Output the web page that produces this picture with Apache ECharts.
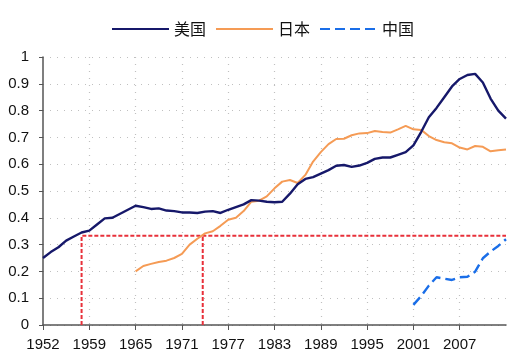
<!DOCTYPE html>
<html>
<head>
<meta charset="utf-8">
<script src="https://cdn.jsdelivr.net/npm/echarts@6/dist/echarts.min.js"></script>
<style>html,body{margin:0;padding:0;background:#fff;}#c{width:525px;height:360px;}</style>
</head>
<body>
<div id="c"></div>
<script>
// Categories: first label 1952, then 1954..2013 (61 points)
var years = ['1952'];
for (var y = 1954; y <= 2013; y++) years.push(String(y));

var usa = [0.25,0.272,0.29,0.315,0.33,0.345,0.352,0.375,0.398,0.40,
           0.415,0.43,0.445,0.44,0.433,0.435,0.427,0.425,0.42,0.42,
           0.418,0.423,0.425,0.418,0.43,0.44,0.45,0.466,0.464,0.46,
           0.458,0.46,0.49,0.525,0.545,0.552,0.565,0.578,0.594,0.597,
           0.59,0.595,0.605,0.62,0.625,0.625,0.635,0.645,0.67,0.72,
           0.775,0.81,0.85,0.89,0.918,0.933,0.937,0.905,0.845,0.80,0.77];

var japan = ['-','-','-','-','-','-','-','-','-','-',
             '-','-',0.20,0.22,0.228,0.235,0.24,0.25,0.265,0.30,
             0.322,0.342,0.35,0.37,0.393,0.40,0.425,0.46,0.464,0.48,
             0.51,0.535,0.541,0.53,0.56,0.61,0.645,0.675,0.694,0.695,
             0.708,0.715,0.716,0.724,0.72,0.718,0.73,0.743,0.73,0.728,
             0.705,0.69,0.682,0.678,0.662,0.655,0.668,0.665,0.648,0.652,0.655];

var china = ['-','-','-','-','-','-','-','-','-','-',
             '-','-','-','-','-','-','-','-','-','-',
             '-','-','-','-','-','-','-','-','-','-',
             '-','-','-','-','-','-','-','-','-','-',
             '-','-','-','-','-','-','-','-',0.075,0.108,
             0.147,0.178,0.173,0.168,0.178,0.18,0.199,0.249,0.274,0.295,0.32];

var seriesNames = ['美国','日本','中国'];
// reference level and marker positions (category index units)
var refLevel = 0.333;
var refX = [5, 20.7];
var lastIndex = 60;

var chart = echarts.init(document.getElementById('c'));
var txt = {color:'#111', fontFamily:'Liberation Sans, Arial, sans-serif', fontSize:15};
var showIdx = function (i) { return i % 6 === 0 && i < lastIndex; };
chart.setOption({
  animation: false,
  backgroundColor: '#fff',
  legend: {
    data: seriesNames,
    top: 16,
    left: 'center',
    itemWidth: 57,
    itemHeight: 14,
    itemGap: 9,
    itemStyle: {opacity: 0},
    textStyle: {color:'#111', fontSize:16, fontFamily:'Noto Sans CJK SC, sans-serif'}
  },
  grid: {left: 43, right: 19, top: 57, bottom: 35},
  xAxis: [{
    type: 'category',
    data: years,
    boundaryGap: false,
    axisLine: {lineStyle: {color:'#555', width: 1.5}},
    axisTick: {show: true, interval: showIdx, length: 5, lineStyle:{color:'#555'}},
    axisLabel: Object.assign({interval: showIdx, margin: 12}, txt),
    splitLine: {show: true, interval: function(i){return i % 6 === 0 && i > 0 && i < lastIndex;}, lineStyle: {color:'#c0c0c0', type:[1,6], width:1.2}}
  }, {
    type: 'value', min: 0, max: lastIndex, show: false
  }],
  yAxis: {
    type: 'value',
    min: 0, max: 1, interval: 0.1,
    axisLine: {show: true, lineStyle: {color:'#555', width: 1.5}},
    axisTick: {show: true, length: 4, lineStyle:{color:'#555'}},
    axisLabel: Object.assign({margin: 14}, txt),
    splitLine: {show: true, lineStyle: {color:'#c0c0c0', type:[1,6], width:1.2}}
  },
  series: [
    {type:'line', xAxisIndex:1, silent:true, symbol:'none', z:1,
     data:[[refX[0],0],[refX[0],refLevel],[lastIndex,refLevel]],
     lineStyle:{color:'#e8303a', width:2, type:[4,2]}},
    {type:'line', xAxisIndex:1, silent:true, symbol:'none', z:1,
     data:[[refX[1],0],[refX[1],refLevel]],
     lineStyle:{color:'#e8303a', width:2, type:[4,2]}},
    {name:seriesNames[0], type:'line', data:usa, symbol:'none', z:3,
     lineStyle:{color:'#16186a', width:2.4}, itemStyle:{color:'#16186a'}},
    {name:seriesNames[1], type:'line', data:japan, symbol:'none', z:2,
     lineStyle:{color:'#f59b55', width:2}, itemStyle:{color:'#f59b55'}},
    {name:seriesNames[2], type:'line', data:china, symbol:'none', z:2,
     lineStyle:{color:'#1a6ee8', width:2.4, type:[10,5]}, itemStyle:{color:'#1a6ee8'}}
  ]
});
</script>
</body>
</html>
